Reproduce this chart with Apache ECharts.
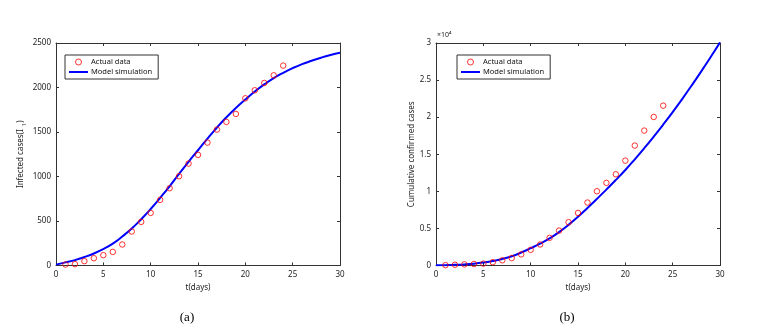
<!DOCTYPE html>
<html lang="en">
<head>
    <meta charset="UTF-8">
    <title>Infected and cumulative cases</title>
    <script src="https://cdn.jsdelivr.net/npm/echarts/dist/echarts.min.js"></script>
    <style>
        html, body { margin: 0; padding: 0; background: #fff; }
        #main { width: 758px; height: 333px; }
    </style>
</head>
<body>
<div id="main"></div>
<script>
    // (a) infected cases, (b) cumulative confirmed cases
    const actualDays = [1, 2, 3, 4, 5, 6, 7, 8, 9, 10, 11, 12, 13, 14, 15, 16, 17, 18, 19, 20, 21, 22, 23, 24];
    const infectedActual = [11, 15, 49, 82, 116, 153, 236, 382, 490, 591, 737, 868, 1003, 1145, 1243, 1381,
        1527, 1613, 1703, 1879, 1969, 2051, 2137, 2246];
    const cumulativeActual = [50, 100, 150, 200, 250, 450, 700, 1000, 1500, 2110, 2830, 3730, 4710, 5840, 7090, 8490,
        10010, 11140, 12300, 14140, 16170, 18190, 20030, 21550];

    const modelDays = [0, 1, 2, 3, 4, 5, 6, 7, 8, 9, 10, 11, 12, 13, 14, 15, 16, 17, 18, 19, 20, 21, 22, 23, 24, 25, 26, 27, 28, 29, 30];
    const infectedModel = [10, 35, 60, 95, 135, 185, 245, 325, 415, 520, 635, 760, 890, 1030, 1165, 1295,
        1425, 1550, 1665, 1770, 1865, 1955, 2035, 2105, 2165, 2218, 2263, 2300, 2335, 2365, 2390];
    const cumulativeModel = [20, 50, 90, 150, 250, 400, 600, 880, 1250, 1750, 2330, 2950, 3650, 4500, 5480, 6580,
        7760, 8980, 10240, 11540, 12880, 14320, 15820, 17380, 19000, 20680, 22440, 24260, 26140, 28080, 30080];

    const xTicks = { min: 0, max: 30, interval: 5 };

    const FONT = 'Noto Sans';
    const AXIS_COLOR = '#333';

    function pairs(xs, ys) {
        return xs.map((x, i) => [x, ys[i]]);
    }

    function xAxisPair(grid, name) {
        const base = {
            type: 'value', gridIndex: grid, min: xTicks.min, max: xTicks.max, interval: xTicks.interval,
            splitLine: { show: false },
            axisLine: { show: true, onZero: false, lineStyle: { color: AXIS_COLOR, width: 1 } },
            axisTick: { show: true, inside: true, length: 3, lineStyle: { color: AXIS_COLOR } }
        };
        return [
            Object.assign({}, base, {
                position: 'bottom', name: name, nameLocation: 'middle', nameGap: 17,
                nameTextStyle: { fontFamily: FONT, fontSize: 8, color: '#222' },
                axisLabel: { fontFamily: FONT, fontSize: 8, color: '#222', margin: 5 }
            }),
            Object.assign({}, base, { position: 'top', axisLabel: { show: false } })
        ];
    }

    function yAxisPair(grid, opts) {
        const base = {
            type: 'value', gridIndex: grid, min: 0, max: opts.max, interval: opts.interval,
            splitLine: { show: false },
            axisLine: { show: true, onZero: false, lineStyle: { color: AXIS_COLOR, width: 1 } },
            axisTick: { show: true, inside: true, length: 3, lineStyle: { color: AXIS_COLOR } }
        };
        return [
            Object.assign({}, base, {
                position: 'left', name: opts.name, nameLocation: 'middle', nameGap: opts.nameGap, nameRotate: 90,
                nameTextStyle: {
                    fontFamily: FONT, fontSize: 8, color: '#222',
                    rich: { s: { fontFamily: FONT, fontSize: 6, color: '#222', padding: [6, 0, 0, 3] } }
                },
                axisLabel: { fontFamily: FONT, fontSize: 8, color: '#222', margin: 5, formatter: opts.formatter }
            }),
            Object.assign({}, base, { position: 'right', axisLabel: { show: false } })
        ];
    }

    function legendAt(left) {
        return {
            left: left, top: 55, orient: 'vertical',
            data: [
                {
                    name: 'Actual data', icon: 'circle',
                    itemStyle: { color: 'rgba(255,255,255,0)', borderColor: '#ff0000', borderWidth: 1 }
                },
                { name: 'Model simulation', itemStyle: { opacity: 0 } }
            ],
            backgroundColor: '#fff', borderColor: '#333', borderWidth: 1, borderRadius: 0,
            padding: [3, 6, 3, 3], itemWidth: 19, itemHeight: 6, itemGap: 2,
            textStyle: { fontFamily: FONT, fontSize: 7.5, color: '#111', padding: [0, 0, 0, -2] }
        };
    }

    const chart = echarts.init(document.getElementById('main'), null, { renderer: 'canvas' });

    const circleStyle = { color: 'rgba(255,255,255,0)', borderColor: '#ff0000', borderWidth: 1 };

    chart.setOption({
        animation: false,
        backgroundColor: '#fff',
        grid: [
            { left: 56, right: 418, top: 43, bottom: 67.5 },
            { left: 436, right: 38, top: 43, bottom: 67.5 }
        ],
        legend: [legendAt(65), legendAt(457)],
        xAxis: xAxisPair(0, 't(days)').concat(xAxisPair(1, 't(days)')),
        yAxis: yAxisPair(0, {
                max: 2500, interval: 500, name: 'Infected cases(I{s|1})', nameGap: 29,
                formatter: v => String(v)
            })
            .concat(yAxisPair(1, {
                max: 30000, interval: 5000, name: 'Cumulative confirmed cases', nameGap: 19,
                formatter: v => String(v / 10000)
            })),
        series: [
            {
                name: 'Model simulation', type: 'line', xAxisIndex: 0, yAxisIndex: 0,
                data: pairs(modelDays, infectedModel), smooth: true, symbol: 'none',
                lineStyle: { color: '#0000ff', width: 2 }, itemStyle: { color: '#0000ff' }, z: 2
            },
            {
                name: 'Actual data', type: 'scatter', xAxisIndex: 0, yAxisIndex: 0,
                data: pairs(actualDays, infectedActual), symbol: 'circle', symbolSize: 5.5,
                itemStyle: circleStyle, z: 3
            },
            {
                name: 'Model simulation', type: 'line', xAxisIndex: 2, yAxisIndex: 2,
                data: pairs(modelDays, cumulativeModel), smooth: true, symbol: 'none', clip: true,
                lineStyle: { color: '#0000ff', width: 2 }, itemStyle: { color: '#0000ff' }, z: 2
            },
            {
                name: 'Actual data', type: 'scatter', xAxisIndex: 2, yAxisIndex: 2,
                data: pairs(actualDays, cumulativeActual), symbol: 'circle', symbolSize: 5.5,
                itemStyle: circleStyle, z: 3
            }
        ],
        graphic: [
            {
                type: 'text', x: 437, y: 31,
                style: { text: '×10⁴', fontFamily: FONT, fontSize: 7, fill: '#222' }
            },
            {
                type: 'text', x: 187, y: 318,
                style: { text: '(a)', fontFamily: 'Liberation Serif', fontSize: 13, fill: '#000',
                    textAlign: 'center', textVerticalAlign: 'middle' }
            },
            {
                type: 'text', x: 567, y: 318,
                style: { text: '(b)', fontFamily: 'Liberation Serif', fontSize: 13, fill: '#000',
                    textAlign: 'center', textVerticalAlign: 'middle' }
            }
        ]
    });
</script>
</body>
</html>
